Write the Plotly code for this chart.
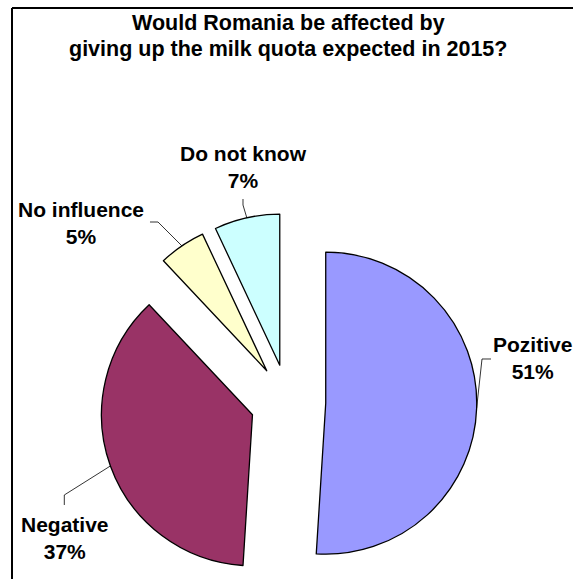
import numpy as np
import plotly.graph_objects as go

# Survey answers
categories = ["Pozitive", "Negative", "No influence", "Do not know"]
shares = [51, 37, 5, 7]
colors = ["#9999FF", "#993366", "#FFFFCC", "#CCFFFF"]
title_lines = ["Would Romania be affected by",
               "giving up the milk quota expected in 2015?"]

# Page and pie geometry (pixels, origin top-left)
W, H = 573, 579
CX, CY = 288, 402      # centre of the un-exploded pie
R = 151                # pie radius
PULL = 0.25            # explode distance as a fraction of the radius
FONT = "Arial, 'Liberation Sans', sans-serif"

# label block centres and leader-line elbows, in label order
label_pos = [(532, 358.4), (65, 538), (81, 223), (243, 167)]
leader_elbows = [[(491, 359), (482, 359)],
                 [(64.3, 505), (64.3, 495)],
                 [(150, 222), (158, 222)],
                 [(243, 199), (243, 205)]]


def px_x(x):
    return x / W


def px_y(y):
    return 1 - y / H


vals = np.array(shares, dtype=float)
frac = vals / vals.sum()
ends = np.cumsum(frac) * 2 * np.pi
starts = ends - frac * 2 * np.pi
mids = (starts + ends) / 2   # clockwise from 12 o'clock

fig = go.Figure()
shapes = []
annotations = []

for i, cat in enumerate(categories):
    # each slice is its own pie trace, shifted outwards along its mid angle
    sx = CX + PULL * R * np.sin(mids[i])
    sy = CY - PULL * R * np.cos(mids[i])
    fig.add_trace(go.Pie(
        labels=categories,
        values=shares,
        sort=False,
        direction="clockwise",
        rotation=0,
        textinfo="none",
        showlegend=False,
        hoverinfo="label+percent",
        marker=dict(
            colors=[colors[j] if j == i else "rgba(0,0,0,0)" for j in range(len(categories))],
            line=dict(color="black",
                      width=[1.3 if j == i else 0 for j in range(len(categories))]),
        ),
        domain=dict(x=[px_x(sx - R), px_x(sx + R)],
                    y=[px_y(sy + R), px_y(sy - R)]),
    ))

    # point on the slice's outer arc where its leader line ends
    ax = sx + R * np.sin(mids[i])
    ay = sy - R * np.cos(mids[i])
    pts = leader_elbows[i] + [(ax, ay)]
    path = "M " + " L ".join(f"{px_x(x):.5f},{px_y(y):.5f}" for x, y in pts)
    shapes.append(dict(type="path", xref="paper", yref="paper", path=path,
                       line=dict(color="black", width=0.8)))

    lx, ly = label_pos[i]
    annotations.append(dict(
        x=px_x(lx), y=px_y(ly), xref="paper", yref="paper",
        xanchor="center", yanchor="middle", showarrow=False,
        text=f"<b>{cat}<br>{shares[i]}%</b>",
        font=dict(family=FONT, size=21, color="black"),
    ))

# title, one annotation per line
for k, (line, ty) in enumerate(zip(title_lines, [23.5, 48.5])):
    annotations.append(dict(
        x=px_x(288), y=px_y(ty), xref="paper", yref="paper",
        xanchor="center", yanchor="middle", showarrow=False,
        text=f"<b>{line}</b>",
        font=dict(family=FONT, size=21.5, color="black"),
    ))

# chart frame (top and left edges)
shapes.append(dict(type="line", xref="paper", yref="paper",
                   x0=px_x(12), y0=px_y(8), x1=1.0, y1=px_y(8),
                   line=dict(color="black", width=2)))
shapes.append(dict(type="line", xref="paper", yref="paper",
                   x0=px_x(12), y0=px_y(8), x1=px_x(12), y1=0.0,
                   line=dict(color="black", width=2)))

fig.update_layout(
    width=W, height=H,
    margin=dict(l=0, r=0, t=0, b=0),
    paper_bgcolor="white",
    plot_bgcolor="white",
    shapes=shapes,
    annotations=annotations,
)

fig.write_html("out.html")
